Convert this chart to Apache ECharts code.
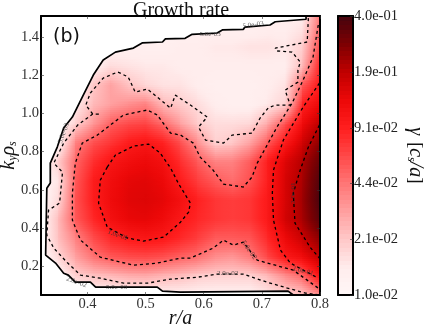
<!DOCTYPE html>
<html><head><meta charset="utf-8">
<style>html,body{margin:0;padding:0;background:#fff}#c{width:427px;height:331px}</style>
<script src="https://cdn.jsdelivr.net/npm/echarts@6/dist/echarts.min.js"></script>
</head><body><div id="c"></div>
<script>
const gridR=[.32,.35,.38,.41,.44,.47,.50,.53,.56,.59,.62,.65,.68,.71,.74,.77,.80];
const gridK=[.05,.15,.25,.35,.45,.55,.65,.75,.85,.95,1.05,1.15,1.25,1.35,1.45,1.51];
const gamma=[
[.012,.012,.012,.012,.012,.012,.012,.013,.013,.013,.013,.013,.013,.015,.018,.021,.035],
[.012,.012,.019,.022,.024,.027,.028,.025,.023,.020,.019,.019,.019,.024,.036,.050,.110],
[.012,.018,.030,.045,.056,.062,.064,.060,.052,.046,.036,.033,.042,.065,.100,.125,.190],
[.012,.023,.040,.062,.085,.098,.105,.100,.085,.070,.055,.055,.058,.085,.130,.180,.260],
[.012,.024,.055,.085,.115,.135,.140,.125,.100,.085,.075,.070,.075,.100,.165,.220,.360],
[.012,.018,.058,.095,.125,.145,.150,.140,.115,.090,.075,.070,.075,.100,.160,.230,.400],
[.012,.016,.055,.095,.120,.140,.145,.130,.095,.070,.055,.047,.060,.095,.160,.220,.380],
[.012,.020,.050,.080,.105,.120,.130,.115,.080,.055,.040,.040,.055,.095,.150,.210,.330],
[.012,.012,.040,.060,.075,.095,.105,.090,.060,.035,.019,.021,.030,.055,.100,.170,.260],
[.012,.012,.019,.033,.053,.062,.066,.048,.030,.020,.017,.017,.018,.028,.060,.125,.200],
[.012,.012,.014,.024,.030,.035,.040,.024,.020,.017,.014,.013,.013,.015,.019,.090,.130],
[.012,.012,.012,.021,.030,.022,.018,.016,.016,.014,.013,.013,.013,.014,.016,.055,.100],
[.012,.012,.012,.013,.017,.016,.015,.015,.014,.014,.014,.014,.014,.014,.014,.024,.090],
[.012,.012,.012,.012,.013,.013,.013,.013,.014,.014,.015,.015,.016,.016,.015,.020,.065],
[.012,.012,.012,.012,.012,.012,.012,.012,.013,.013,.013,.013,.013,.014,.014,.016,.050],
[.012,.012,.012,.012,.012,.012,.012,.012,.012,.012,.012,.012,.012,.013,.014,.014,.045]];
const boundary=[[.776,1.51],[.776,1.493],[.723,1.480],[.714,1.463],[.671,1.452],[.668,1.440],[.632,1.437],[.623,1.421],[.580,1.414],[.568,1.393],[.534,1.390],[.529,1.374],[.494,1.369],[.479,1.342],[.448,1.321],[.427,1.280],[.410,1.201],[.391,1.086],[.374,.981],[.359,.924],[.348,.824],[.336,.740],[.336,.636],[.330,.609],[.328,.259],[.345,.217],[.359,.164],[.367,.154],[.379,.117],[.405,.117],[.414,.091],[.520,.091],[.529,.070],[.560,.065],[.745,.070],[.754,.05]];
const contour02=[[.780,1.499],[.778,1.374],[.723,1.342],[.726,1.327],[.752,1.321],[.766,1.269],[.762,1.227],[.762,1.164],[.740,1.122],[.744,1.086],[.749,1.044],[.723,1.044],[.711,1.029],[.697,.976],[.683,.897],[.649,.887],[.634,.845],[.603,.861],[.591,.929],[.606,.981],[.577,1.044],[.551,1.096],[.543,1.028],[.503,1.128],[.482,1.112],[.470,1.191],[.452,1.217],[.427,1.185],[.405,1.107],[.397,1.044],[.409,.997],[.422,.997],[.409,.997],[.383,.939],[.359,.845],[.342,.740],[.357,.693],[.352,.531],[.333,.494],[.330,.363],[.342,.295],[.366,.217],[.388,.154],[.422,.138],[.462,.112],[.503,.112],[.543,.133],[.589,.143],[.623,.159],[.668,.159],[.709,.117],[.744,.086],[.775,.060],[.800,.05]];
const contour05=[[.797,1.463],[.788,1.295],[.771,1.175],[.752,1.054],[.726,.929],[.692,.740],[.683,.667],[.668,.615],[.634,.630],[.616,.704],[.599,.756],[.594,.771],[.582,.845],[.560,.887],[.543,.897],[.520,.992],[.503,1.018],[.462,.992],[.417,.887],[.391,.845],[.379,.740],[.374,.583],[.374,.442],[.388,.337],[.422,.248],[.479,.206],[.520,.217],[.560,.243],[.577,.243],[.616,.295],[.634,.337],[.651,.311],[.668,.327],[.692,.232],[.754,.180],[.797,.086]];
const contour10a=[[.434,.719],[.448,.782],[.479,.829],[.505,.840],[.525,.793],[.543,.714],[.556,.636],[.577,.531],[.574,.484],[.560,.431],[.531,.353],[.496,.332],[.469,.348],[.434,.405],[.419,.531],[.422,.651],[.434,.719]];
const contour10b=[[.799,1.159],[.771,1.033],[.737,.861],[.720,.704],[.718,.583],[.720,.442],[.732,.285],[.749,.217],[.797,.138]];
const contour20=[[.799,.939],[.780,.824],[.766,.704],[.754,.583],[.757,.426],[.783,.300],[.799,.243]];
const contourLabels=[
[.685,1.463,'5.0e-03',8],[.611,1.416,'5.0e-03',0],[.359,.897,'5.0e-03',70],[.381,.117,'2.0e-02',-20],[.45,.091,'5.0e-03',0],
[.452,.363,'1.0e-01',-20],[.678,.285,'5.0e-02',-55],[.641,.164,'2.0e-02',0],[.771,.175,'1.0e-01',-15],[.754,.583,'2.0e-01',90]];
const xTicks=[.4,.5,.6,.7,.8];
const yTicks=[.2,.4,.6,.8,1.0,1.2,1.4];
const cbTicks=[.01,.0209,.0437,.0912,.191,.4];
const cbTickLabels=['1.0e-02','2.1e-02','4.4e-02','9.1e-02','1.9e-01','4.0e-01'];
const cbBands=64;

const LMIN=Math.log10(.01),LMAX=Math.log10(.4);
const cmap=[[0,[255,247,247]],[.1,[255,236,236]],[.2,[255,200,200]],[.3,[255,160,160]],[.4,[255,118,118]],[.5,[255,72,72]],[.6,[255,30,30]],[.7,[236,8,8]],[.8,[192,0,0]],[.9,[125,0,2]],[1,[70,4,14]]];
function colorAt(t){
  t=Math.max(0,Math.min(1,t));
  for(let i=1;i<cmap.length;i++){
    if(t<=cmap[i][0]){
      const a=cmap[i-1],b=cmap[i],f=(t-a[0])/(b[0]-a[0]);
      return 'rgb('+a[1].map((c,n)=>Math.round(c+(b[1][n]-c)*f)).join(',')+')';
    }
  }
  return 'rgb(70,4,14)';
}
const tOf=v=>(Math.log10(v)-LMIN)/(LMAX-LMIN);

const heatData=[];
gridK.forEach((k,j)=>gridR.forEach((r,i)=>heatData.push([r,k,gamma[j][i],i,j])));
const bandData=[];
for(let b=0;b<cbBands;b++)bandData.push([0,LMIN+(LMAX-LMIN)*b/cbBands,b]);

function renderHeat(params,api){
  const i=api.value(3),j=api.value(4);
  if(i>=gridR.length-1||j>=gridK.length-1)return null;
  const p0=api.coord([gridR[i],gridK[j]]),p1=api.coord([gridR[i+1],gridK[j+1]]);
  const a=tOf(gamma[j][i]),b=tOf(gamma[j][i+1]),c=tOf(gamma[j+1][i]),d=tOf(gamma[j+1][i+1]);
  const strips=Math.max(1,Math.round((p0[1]-p1[1])/2));
  const h=(p0[1]-p1[1])/strips,children=[];
  for(let s=0;s<strips;s++){
    const f=(s+.5)/strips,l=a+(c-a)*f,r=b+(d-b)*f,stops=[];
    for(let q=0;q<=4;q++)stops.push({offset:q/4,color:colorAt(l+(r-l)*q/4)});
    const y1=Math.ceil(p0[1]-s*h),y0=Math.floor(p0[1]-(s+1)*h);
    children.push({type:'rect',shape:{x:Math.floor(p0[0]),y:y0,width:Math.ceil(p1[0]-p0[0])+1,height:y1-y0},
      style:{fill:new echarts.graphic.LinearGradient(0,0,1,0,stops)}});
  }
  return {type:'group',children};
}
function renderMask(params,api){
  if(params.dataIndex!==0)return null;
  const cs=params.coordSys;
  const pts=boundary.map(p=>api.coord(p));
  pts.push([pts[pts.length-1][0],cs.y+cs.height+2],[cs.x-2,cs.y+cs.height+2],[cs.x-2,cs.y-2]);
  return {type:'polygon',shape:{points:pts},style:{fill:'#fff'}};
}
function renderBand(params,api){
  const b=api.value(2),step=(LMAX-LMIN)/cbBands,cs=params.coordSys;
  const p0=api.coord([0,LMIN+b*step]),p1=api.coord([0,LMIN+(b+1)*step]);
  return {type:'rect',shape:{x:cs.x,y:Math.floor(p1[1]),width:cs.width,height:Math.ceil(p0[1])-Math.floor(p1[1])},
    style:{fill:colorAt((b+.5)/cbBands)}};
}
const serif='"Liberation Serif",serif';
const lineS=(name,data,type,w)=>({type:'line',name,data,xAxisIndex:0,yAxisIndex:0,showSymbol:false,symbol:'none',silent:true,z:6,animation:false,clip:true,
  lineStyle:{color:'#000',width:w,type}});
const frame={show:true,onZero:false,lineStyle:{color:'#000',width:2}};
const tick={show:true,inside:true,length:3,lineStyle:{color:'#333',width:.6}};
const rich={i:{fontFamily:serif,fontStyle:'italic',fontSize:20,color:'#111'},s:{fontFamily:serif,fontStyle:'italic',fontSize:12,color:'#111',padding:[7,0,0,0]},n:{fontFamily:serif,fontSize:19,color:'#111'}};
const chart=echarts.init(document.getElementById('c'),null,{renderer:'canvas'});
chart.setOption({
  animation:false,backgroundColor:'#fff',
  title:[
    {text:'Growth rate',left:176,top:-4,textAlign:'center',textStyle:{fontFamily:serif,fontSize:20,fontWeight:'normal',color:'#111'}},
    {text:'(b)',left:48,top:23,textStyle:{fontFamily:'"DejaVu Sans",sans-serif',fontSize:19,fontWeight:'normal',color:'#111'}}
  ],
  grid:[{left:41,top:16,width:279,height:279,outerBoundsMode:'none'},{left:338,top:16,width:15,height:279,outerBoundsMode:'none'}],
  xAxis:[
    {gridIndex:0,type:'value',min:.32,max:.8,position:'bottom',z:8,axisLine:frame,axisTick:{...tick,customValues:xTicks},splitLine:{show:false},
     axisLabel:{customValues:xTicks,formatter:v=>v.toFixed(1),fontFamily:serif,fontSize:14.5,color:'#333',margin:2},
     name:'{i|r/a}',nameLocation:'middle',nameGap:14,nameMoveOverlap:false,nameTextStyle:{rich}},
    {gridIndex:0,type:'value',min:.32,max:.8,position:'top',z:8,axisLine:frame,axisTick:{...tick,customValues:xTicks},axisLabel:{show:false},splitLine:{show:false}},
    {gridIndex:1,type:'value',min:0,max:1,position:'bottom',z:8,axisLine:frame,axisTick:{show:false},axisLabel:{show:false},splitLine:{show:false}},
    {gridIndex:1,type:'value',min:0,max:1,position:'top',z:8,axisLine:frame,axisTick:{show:false},axisLabel:{show:false},splitLine:{show:false}}
  ],
  yAxis:[
    {gridIndex:0,type:'value',min:.05,max:1.51,position:'left',z:8,axisLine:frame,axisTick:{...tick,customValues:yTicks},splitLine:{show:false},
     axisLabel:{customValues:yTicks,formatter:v=>v.toFixed(1),fontFamily:serif,fontSize:14.5,color:'#333',margin:2},
     name:'{i|k}{s|y}{i|ρ}{s|s}',nameLocation:'middle',nameGap:22,nameRotate:90,nameMoveOverlap:false,nameTextStyle:{rich}},
    {gridIndex:0,type:'value',min:.05,max:1.51,position:'right',z:8,axisLine:frame,axisTick:{...tick,customValues:yTicks},axisLabel:{show:false},splitLine:{show:false}},
    {gridIndex:1,type:'value',min:LMIN,max:LMAX,position:'left',z:8,axisLine:frame,axisTick:{show:false},axisLabel:{show:false},splitLine:{show:false}},
    {gridIndex:1,type:'value',min:LMIN,max:LMAX,position:'right',z:8,axisLine:frame,
     axisTick:{show:true,inside:true,length:3,lineStyle:{color:'#333',width:.6},customValues:cbTicks.map(Math.log10)},splitLine:{show:false},
     axisLabel:{customValues:cbTicks.map(Math.log10),margin:1,fontFamily:serif,fontSize:14.5,color:'#222',
       formatter:v=>{let b=0;cbTicks.forEach((t,n)=>{if(Math.abs(Math.log10(t)-v)<Math.abs(Math.log10(cbTicks[b])-v))b=n;});return cbTickLabels[b];}},
     name:'{i|γ}  {n|[}{i|c}{s|s}{i|/a}{n|]}',nameLocation:'middle',nameGap:52,nameRotate:-90,nameMoveOverlap:false,nameTextStyle:{rich}}
  ],
  series:[
    {type:'custom',name:'gamma',xAxisIndex:0,yAxisIndex:0,data:heatData,renderItem:renderHeat,clip:true,silent:true,z:2,encode:{x:0,y:1}},
    {type:'custom',name:'outside',xAxisIndex:0,yAxisIndex:0,data:boundary,renderItem:renderMask,clip:true,silent:true,z:3,encode:{x:0,y:1}},
    lineS('boundary',boundary,'solid',1.7),
    lineS('2.0e-02',contour02,[3,3],1.3),
    lineS('5.0e-02',contour05,[3,3],1.3),
    lineS('1.0e-01',contour10a,[3,3],1.3),
    lineS('1.0e-01 right',contour10b,[3,3],1.3),
    lineS('2.0e-01',contour20,[3,3],1.3),
    {type:'scatter',name:'labels',xAxisIndex:0,yAxisIndex:0,symbolSize:0,silent:true,z:7,
     data:contourLabels.map(l=>({value:[l[0],l[1]],label:{show:true,position:'inside',formatter:l[2],rotate:l[3],fontFamily:serif,fontSize:7,color:'#333'}}))},
    {type:'custom',name:'colorbar',xAxisIndex:2,yAxisIndex:2,data:bandData,renderItem:renderBand,silent:true,z:2,encode:{x:0,y:1}}
  ]
});
</script></body></html>
